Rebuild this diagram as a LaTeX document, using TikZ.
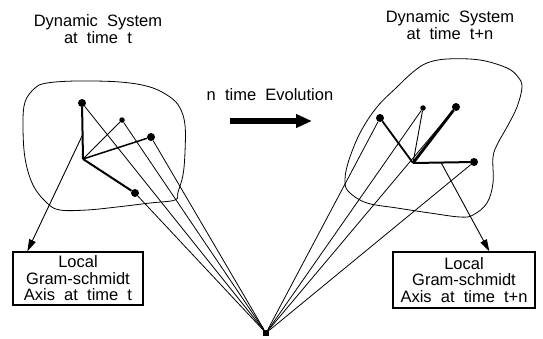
\documentclass[tikz,border=0pt]{standalone}
\usepackage{fontspec}
\setmainfont{Liberation Sans}[WordSpace=2]
\usetikzlibrary{arrows.meta,calc}
\tikzset{
  txt/.style={font=\fontsize{16.5}{16.5}\selectfont, align=center, inner sep=0pt},
  axbox/.style={txt, rectangle, draw, line width=1.3pt},
  bigdot/.style={circle, fill=black, inner sep=0pt, minimum size=8pt},
  smalldot/.style={circle, fill=black, inner sep=0pt, minimum size=5.5pt},
  blob/.style={line width=0.8pt},
  proj/.style={line width=0.8pt},
  pointer/.style={-{Triangle[length=12pt,width=7pt]}, line width=0.9pt},
}

\begin{document}
\begin{tikzpicture}[x=1pt, y=-1pt]
  \useasboundingbox (0,0) rectangle (543,338);
  \node[txt] (ltitle) at (98,29) {Dynamic System\\at time t};
  \node[txt] (rtitle) at (450,25) {Dynamic System\\at time t+n};
  \node[txt] (evo) at (270,95) {n time Evolution};
  \coordinate (ea) at (230,121);
  \coordinate (eb) at (312,121);
  \draw[line width=6pt, -{Triangle[length=16pt,width=13pt]}] (ea) -- (eb);

  \draw[blob] plot[smooth cycle, tension=0.6] coordinates {
    (35,88) (47,83) (77,81) (120,82) (150,87) (170,97) (180,108) (185,125)
    (185,152) (183,175) (178,192) (175,200) (150,203) (117,207) (87,210)
    (60,210) (47,203) (33,185) (25,158) (23,125) (25,102)};
  \draw[blob] plot[smooth cycle, tension=0.6] coordinates {
    (427,63) (447,59) (480,60) (507,68) (518,77) (522,87) (517,107) (507,127)
    (498,143) (493,157) (493,183) (487,203) (473,215) (460,217) (430,213)
    (397,208) (367,203) (350,193) (345,183) (348,163) (360,133) (377,107)
    (397,87) (413,72)};

  \coordinate (lo) at (83,159);
  \node[bigdot] (la) at (82,103) {};
  \node[smalldot] (lb) at (122,120) {};
  \node[bigdot] (lc) at (151,137) {};
  \node[bigdot] (ld) at (135,193) {};
  \draw[line width=2pt] (lo) -- (la);
  \draw[line width=0.9pt] (lo) -- (lb);
  \draw[line width=1.5pt] (lo) -- (lc);
  \draw[line width=2pt] (lo) -- (ld);

  \coordinate (ro) at (413,163);
  \node[bigdot] (ra) at (380,118) {};
  \node[smalldot] (rb) at (423,108) {};
  \node[bigdot] (rc) at (456,107) {};
  \node[bigdot] (rd) at (474,162) {};
  \draw[line width=1.8pt] (ro) -- (ra);
  \draw[line width=0.9pt] (ro) -- (rb);
  \draw[line width=2.8pt] (ro) -- (rc);
  \draw[line width=2pt] (ro) -- (rd);

  \node[fill, minimum size=6pt, inner sep=0pt] (bp) at (266,333) {};
  \foreach \d in {la,lb,lc,ld,ra,rb,rc,rd}
    \draw[proj] (\d) -- (bp);

  \node[axbox, minimum width=130pt, minimum height=53pt] (lbox) at (78,278.5)
    {Local\\Gram-schmidt\\Axis at time t};
  \node[axbox, minimum width=142pt, minimum height=56pt] (rbox) at (464,280)
    {Local\\Gram-schmidt\\Axis at time t+n};
  \coordinate (lax) at ($(lo)!0.43!(la)$);
  \coordinate (rax) at ($(ro)!0.46!(rd)$);
  \draw[pointer] (lax) -- ($(lbox.north west)+(15,0)$);
  \draw[pointer] (rax) -- ($(rbox.north west)+(97,0)$);
\end{tikzpicture}
\end{document}
